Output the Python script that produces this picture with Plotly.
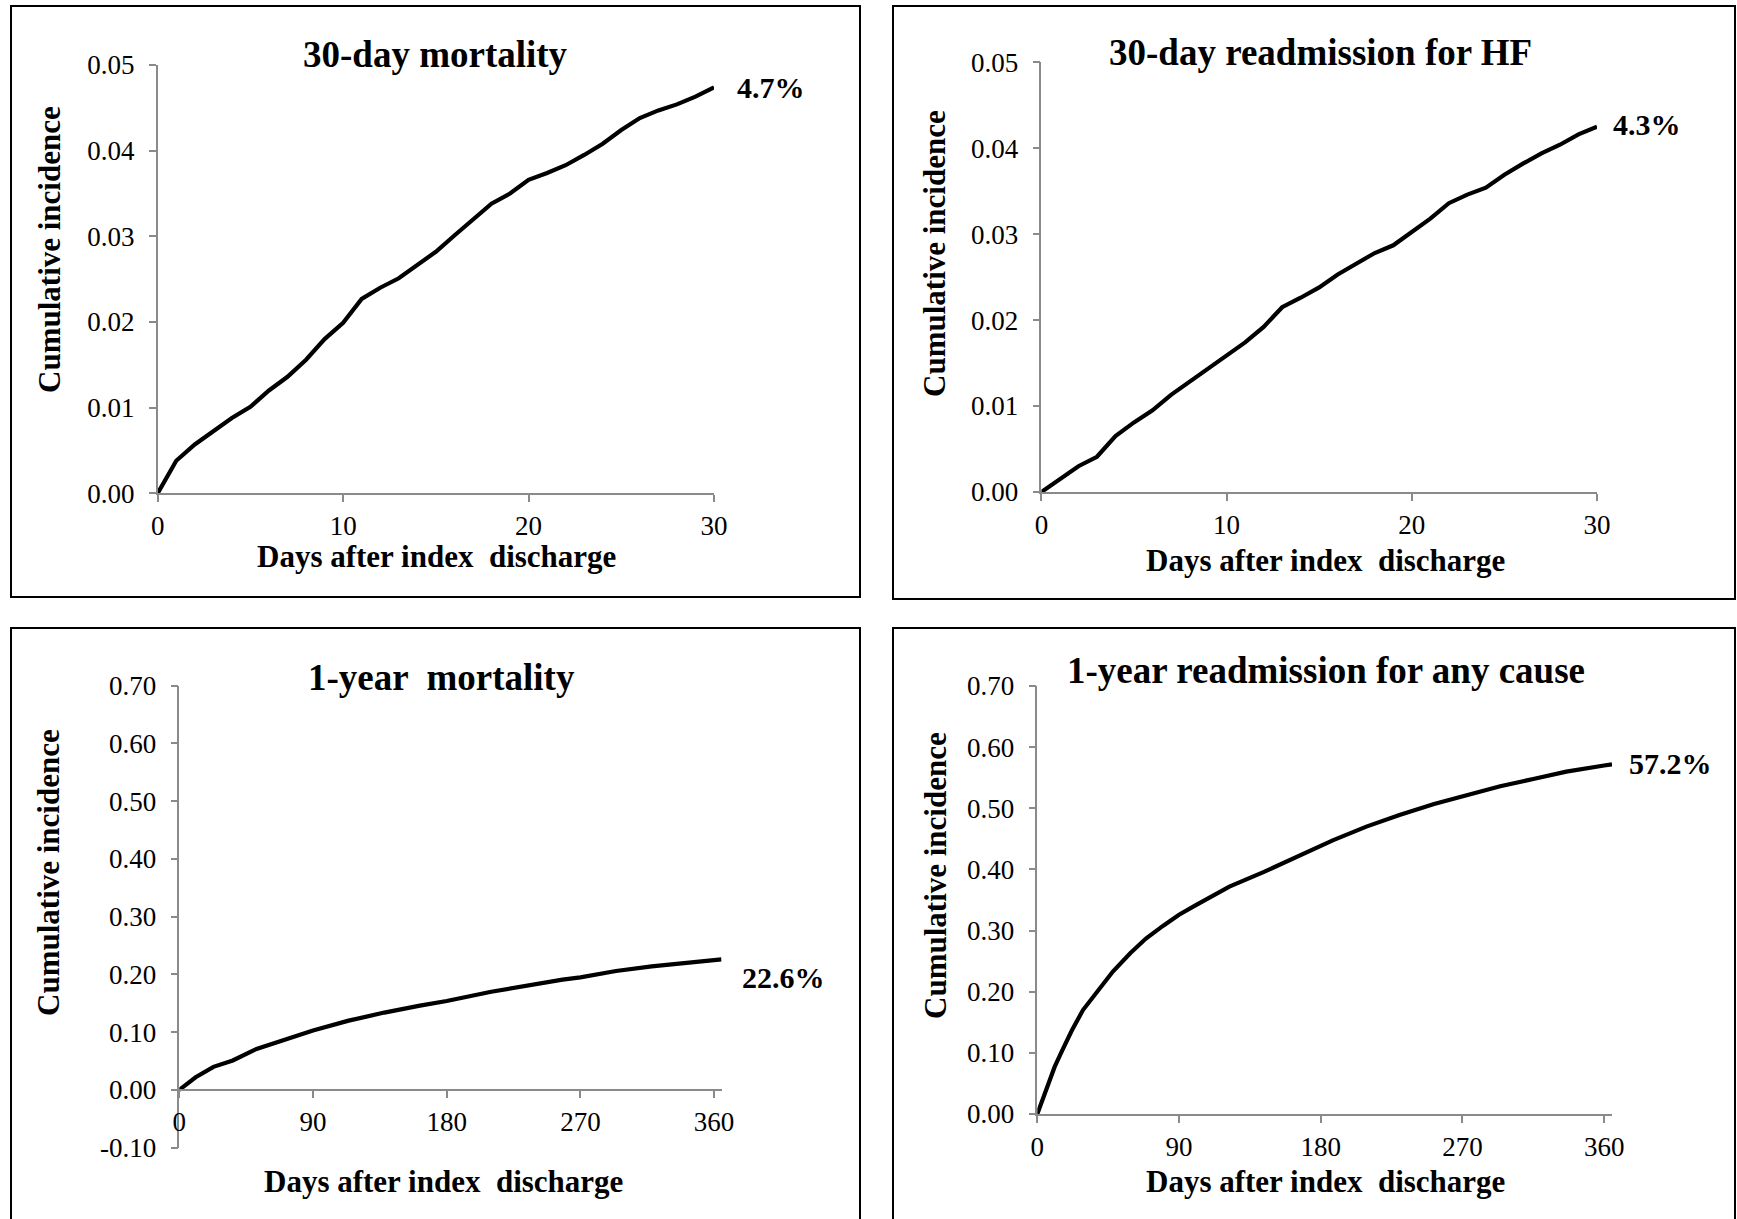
import plotly.graph_objects as go

# ---------------- data ----------------
days_30 = list(range(31))
mortality_30d = [0, 0.0038, 0.0057, 0.0072, 0.0088, 0.0101, 0.0120, 0.0136, 0.0156, 0.0180,
                 0.0199, 0.0227, 0.0240, 0.0251, 0.0267, 0.0282, 0.0301, 0.0319, 0.0338, 0.0350,
                 0.0366, 0.0374, 0.0383, 0.0395, 0.0408, 0.0424, 0.0438, 0.0447, 0.0454, 0.0463,
                 0.0474]
readm_hf_30d = [0, 0.0015, 0.0030, 0.0041, 0.0065, 0.0081, 0.0095, 0.0113, 0.0128, 0.0143,
                0.0159, 0.0174, 0.0192, 0.0215, 0.0226, 0.0238, 0.0253, 0.0266, 0.0278, 0.0287,
                0.0302, 0.0318, 0.0336, 0.0346, 0.0354, 0.0369, 0.0382, 0.0394, 0.0404, 0.0416,
                0.0425]

days_mort_1y = [0, 5, 11, 23, 36, 52, 66, 90, 114, 138, 162, 180, 210, 234, 258, 270, 294,
                318, 342, 360, 365]
mortality_1y = [0, 0.011, 0.022, 0.040, 0.051, 0.071, 0.083, 0.103, 0.120, 0.134, 0.146,
                0.154, 0.170, 0.181, 0.191, 0.195, 0.206, 0.214, 0.221, 0.225, 0.226]

days_readm_1y = [0, 5, 11, 16, 22, 29, 38, 48, 59, 69, 80, 90, 101, 112, 122, 144, 165, 188,
                 209, 230, 252, 273, 294, 315, 336, 360, 365]
readm_any_1y = [0, 0.034, 0.077, 0.105, 0.137, 0.170, 0.200, 0.233, 0.263, 0.287, 0.308,
                0.326, 0.342, 0.357, 0.372, 0.396, 0.421, 0.448, 0.470, 0.489, 0.507, 0.522,
                0.536, 0.548, 0.560, 0.570, 0.572]

titles = ["30-day mortality", "30-day readmission for HF",
          "1-year  mortality", "1-year readmission for any cause"]
end_labels = ["4.7%", "4.3%", "22.6%", "57.2%"]
x_title = "Days after index  discharge"
y_title = "Cumulative incidence"

x_ticks_30 = [0, 10, 20, 30]
x_ticks_1y = [0, 90, 180, 270, 360]
y_ticks_30 = [0.00, 0.01, 0.02, 0.03, 0.04, 0.05]
y_ticktext_30 = ["0.00", "0.01", "0.02", "0.03", "0.04", "0.05"]
y_ticks_mort1y = [-0.1, 0.0, 0.1, 0.2, 0.3, 0.4, 0.5, 0.6, 0.7]
y_ticktext_mort1y = ["-0.10", "0.00", "0.10", "0.20", "0.30", "0.40", "0.50", "0.60", "0.70"]
y_ticks_readm1y = [0.0, 0.1, 0.2, 0.3, 0.4, 0.5, 0.6, 0.7]
y_ticktext_readm1y = ["0.00", "0.10", "0.20", "0.30", "0.40", "0.50", "0.60", "0.70"]

# ---------------- layout helpers ----------------
W, H = 1737, 1219
FONT = "Liberation Serif"
AXC = "#8a8a8a"
TICK_SIZE = 27


def px(x):
    return x / W


def py(y):
    return 1 - y / H


fig = go.Figure()

panels = [
    dict(xd=(157.7, 714.0), yd=(493.3, 65.0), xr=[0, 30], yr=[0, 0.05],
         xt=x_ticks_30, yt=y_ticks_30, ytt=y_ticktext_30,
         x=days_30, y=mortality_30d),
    dict(xd=(1041.4, 1597.0), yd=(492.0, 62.2), xr=[0, 30], yr=[0, 0.05],
         xt=x_ticks_30, yt=y_ticks_30, ytt=y_ticktext_30,
         x=days_30, y=readm_hf_30d),
    dict(xd=(179.3, 721.5), yd=(1147.7, 685.7), xr=[0, 365], yr=[-0.1, 0.7],
         xt=x_ticks_1y, yt=y_ticks_mort1y, ytt=y_ticktext_mort1y,
         x=days_mort_1y, y=mortality_1y),
    dict(xd=(1037.3, 1612.0), yd=(1114.0, 686.0), xr=[0, 365], yr=[0, 0.7],
         xt=x_ticks_1y, yt=y_ticks_readm1y, ytt=y_ticktext_readm1y,
         x=days_readm_1y, y=readm_any_1y),
]

for i, p in enumerate(panels):
    n = i + 1
    xa = "x" if n == 1 else f"x{n}"
    ya = "y" if n == 1 else f"y{n}"
    fig.add_trace(go.Scatter(x=p["x"], y=p["y"], mode="lines", xaxis=xa, yaxis=ya,
                             line=dict(color="black", width=4.2), showlegend=False,
                             hoverinfo="skip"))
    ydom = [py(p["yd"][0]), py(p["yd"][1])]
    xdom = [px(p["xd"][0]), px(p["xd"][1])]
    xaxis = dict(domain=xdom, range=p["xr"], tickvals=p["xt"], automargin=False,
                 showline=True, linecolor=AXC, linewidth=1.5,
                 ticks="outside", ticklen=7, tickcolor=AXC, tickwidth=1.5,
                 showgrid=False, zeroline=False, ticklabelstandoff=1,
                 tickfont=dict(family=FONT, size=TICK_SIZE, color="black"))
    if p["yr"][0] < 0:
        frac = (0 - p["yr"][0]) / (p["yr"][1] - p["yr"][0])
        xaxis.update(anchor="free", position=ydom[0] + frac * (ydom[1] - ydom[0]))
    else:
        xaxis.update(anchor=ya)
    yaxis = dict(domain=ydom, range=p["yr"], tickvals=p["yt"], ticktext=p["ytt"],
                 automargin=False,
                 showline=True, linecolor=AXC, linewidth=1.5,
                 ticks="outside", ticklen=7, tickcolor=AXC, tickwidth=1.5,
                 showgrid=False, zeroline=False, anchor=xa, ticklabelstandoff=9,
                 tickfont=dict(family=FONT, size=TICK_SIZE, color="black"))
    fig.layout["xaxis" if n == 1 else f"xaxis{n}"] = xaxis
    fig.layout["yaxis" if n == 1 else f"yaxis{n}"] = yaxis

# panel boxes
boxes = [(11, 6, 860, 597), (893, 6, 1735, 599), (11, 628, 860, 1240), (893, 628, 1735, 1240)]
for (x0, y0, x1, y1) in boxes:
    fig.add_shape(type="rect", xref="paper", yref="paper",
                  x0=px(x0), x1=px(x1), y0=py(y1), y1=py(y0),
                  line=dict(color="black", width=2), fillcolor="rgba(0,0,0,0)", layer="below")

# text positions (pixel centres)
title_pos = [(435, 54), (1320, 52.5), (441, 677), (1326, 670)]
label_pos = [(735, 87.5), (1611, 124.5), (740, 977), (1627, 763)]
xtitle_pos = [(436, 556), (1325, 561), (443, 1181), (1325, 1181)]
ytitle_pos = [(50, 250), (935, 254), (48, 873), (935, 876)]

for i in range(4):
    fig.add_annotation(text=titles[i], xref="paper", yref="paper",
                       x=px(title_pos[i][0]), y=py(title_pos[i][1]),
                       xanchor="center", yanchor="middle", showarrow=False,
                       font=dict(family=FONT, size=37, color="black", weight="bold"))
    fig.add_annotation(text=end_labels[i], xref="paper", yref="paper",
                       x=px(label_pos[i][0]), y=py(label_pos[i][1]),
                       xanchor="left", yanchor="middle", showarrow=False,
                       font=dict(family=FONT, size=30, color="black", weight="bold"))
    fig.add_annotation(text=x_title, xref="paper", yref="paper",
                       x=px(xtitle_pos[i][0]), y=py(xtitle_pos[i][1]),
                       xanchor="center", yanchor="middle", showarrow=False,
                       font=dict(family=FONT, size=31, color="black", weight="bold"))
    fig.add_annotation(text=y_title, xref="paper", yref="paper", textangle=-90,
                       x=px(ytitle_pos[i][0]), y=py(ytitle_pos[i][1]),
                       xanchor="center", yanchor="middle", showarrow=False,
                       font=dict(family=FONT, size=31, color="black", weight="bold"))

fig.update_layout(width=W, height=H, autosize=False,
                  margin=dict(l=0, r=0, t=0, b=0, pad=0, autoexpand=False),
                  paper_bgcolor="white", plot_bgcolor="rgba(0,0,0,0)",
                  font=dict(family=FONT, color="black"))

fig.write_html("out.html", config={"displayModeBar": False},
               post_script="document.body.style.margin='0px';"
                           "document.body.style.overflow='hidden';")
